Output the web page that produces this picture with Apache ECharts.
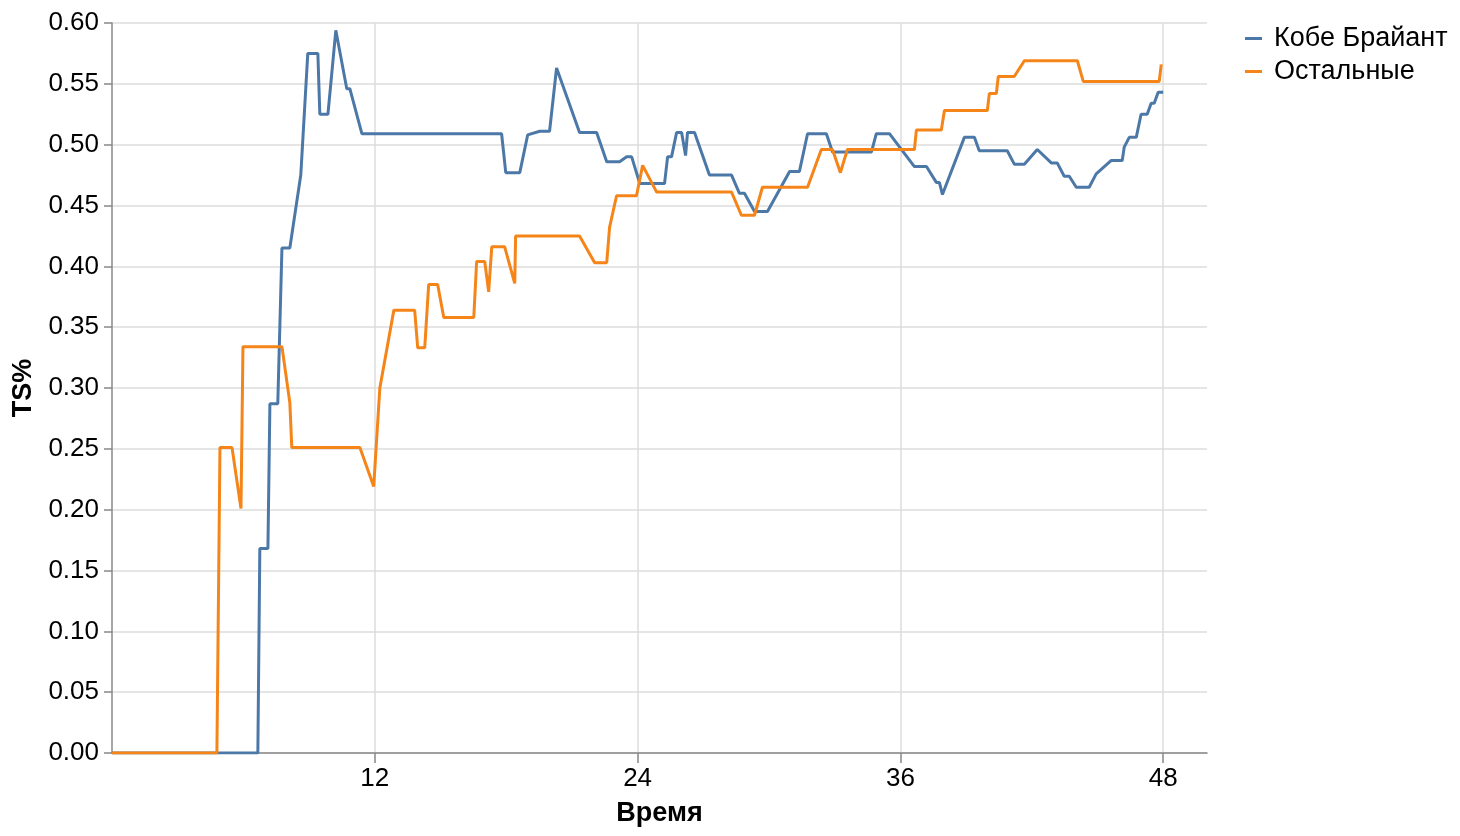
<!DOCTYPE html>
<html>
<head>
<meta charset="utf-8">
<script src="https://cdn.jsdelivr.net/npm/echarts@6/dist/echarts.min.js"></script>
<style>
html,body{margin:0;padding:0;background:#fff;overflow:hidden;}
#chart{width:1460px;height:836px;}
</style>
</head>
<body>
<div id="chart"></div>
<script>
// Minutes of game time and TS% values
const kobeTime = [0,6.66,6.75,7.12,7.21,7.57,7.76,8.12,8.62,8.94,9.40,9.49,9.86,10.22,10.72,10.86,11.41,17.79,17.98,18.62,18.98,19.53,19.98,20.30,21.35,22.13,22.59,23.18,23.50,23.73,24.10,25.23,25.37,25.55,25.78,26.01,26.19,26.28,26.60,27.28,28.29,28.65,28.88,29.34,29.93,30.48,30.94,31.39,31.76,32.62,32.90,34.68,34.90,35.50,36.64,37.19,37.64,37.78,37.92,38.92,39.38,39.60,40.88,41.20,41.66,42.25,42.89,43.16,43.48,43.71,44.03,44.62,44.94,45.63,46.13,46.22,46.45,46.77,46.99,47.27,47.45,47.59,47.77,48];
const kobeTS = [0,0,0.168,0.168,0.287,0.287,0.415,0.415,0.475,0.575,0.575,0.525,0.525,0.594,0.546,0.546,0.509,0.509,0.477,0.477,0.508,0.511,0.511,0.563,0.510,0.510,0.486,0.486,0.490,0.490,0.468,0.468,0.490,0.490,0.510,0.510,0.491,0.510,0.510,0.475,0.475,0.460,0.460,0.445,0.445,0.463,0.478,0.478,0.509,0.509,0.494,0.494,0.509,0.509,0.482,0.482,0.469,0.469,0.459,0.506,0.506,0.495,0.495,0.484,0.484,0.496,0.485,0.485,0.474,0.474,0.465,0.465,0.476,0.487,0.487,0.498,0.506,0.506,0.525,0.525,0.534,0.534,0.543,0.543];

const restTime = [0,4.79,4.93,5.48,5.89,5.98,7.76,8.12,8.21,11.32,11.95,12.23,12.87,13.82,13.96,14.28,14.46,14.87,15.15,16.52,16.65,17.02,17.20,17.34,17.93,18.39,18.43,21.35,22.04,22.59,22.72,23.04,23.95,24.23,24.87,28.29,28.74,29.34,29.70,31.76,32.39,32.90,33.26,33.35,33.58,36.64,36.73,37.87,38.01,39.97,40.06,40.38,40.47,41.20,41.66,44.08,44.35,47.82,47.91];
const restTS = [0,0,0.251,0.251,0.201,0.334,0.334,0.288,0.251,0.251,0.219,0.300,0.364,0.364,0.333,0.333,0.385,0.385,0.358,0.358,0.404,0.404,0.379,0.416,0.416,0.386,0.425,0.425,0.403,0.403,0.432,0.458,0.458,0.483,0.461,0.461,0.442,0.442,0.465,0.465,0.496,0.496,0.477,0.477,0.496,0.496,0.512,0.512,0.528,0.528,0.542,0.542,0.556,0.556,0.569,0.569,0.552,0.552,0.566];

const seriesNames = ['Кобе Брайант', 'Остальные'];
const xTicks = [12, 24, 36, 48];

function zip(a, b) { return a.map((v, i) => [v, b[i]]); }

const font = 'Liberation Sans, Arial, sans-serif';
const chart = echarts.init(document.getElementById('chart'), null, {renderer: 'canvas'});
chart.setOption({
  animation: false,
  color: ['#4c78a8', '#f58518'],
  grid: {left: 112, right: 253, top: 23, bottom: 83, containLabel: false, outerBoundsMode: 'none'},
  legend: {
    orient: 'vertical',
    left: 1240,
    top: 20,
    icon: 'rect',
    itemWidth: 17,
    itemHeight: 3,
    itemGap: 6,
    data: seriesNames,
    textStyle: {fontFamily: font, fontSize: 27, color: '#000', padding: [0, 0, 0, 7]}
  },
  xAxis: {
    type: 'value',
    min: 0,
    max: 50,
    interval: 12,
    name: 'Время',
    nameLocation: 'middle',
    nameGap: 47,
    nameTextStyle: {fontFamily: font, fontSize: 27, fontWeight: 'bold', color: '#000'},
    axisLine: {lineStyle: {color: '#888', width: 1.5}},
    axisTick: {show: true, length: 10, customValues: xTicks, lineStyle: {color: '#888', width: 1.5}},
    axisLabel: {customValues: xTicks, fontFamily: font, fontSize: 26, color: '#000', margin: 13},
    splitLine: {show: true, lineStyle: {color: '#ddd', width: 1.5}}
  },
  yAxis: {
    type: 'value',
    min: 0,
    max: 0.6,
    interval: 0.05,
    name: 'TS%',
    nameLocation: 'middle',
    nameGap: 74,
    nameRotate: 90,
    nameTextStyle: {fontFamily: font, fontSize: 27, fontWeight: 'bold', color: '#000'},
    axisLine: {show: true, lineStyle: {color: '#888', width: 1.5}},
    axisTick: {show: true, length: 8, lineStyle: {color: '#888', width: 1.5}},
    axisLabel: {fontFamily: font, fontSize: 26, color: '#000', margin: 13, formatter: v => v.toFixed(2)},
    splitLine: {show: true, lineStyle: {color: '#ddd', width: 1.5}}
  },
  series: [
    {name: seriesNames[0], type: 'line', data: zip(kobeTime, kobeTS), showSymbol: false, symbol: 'none', lineStyle: {width: 3}, z: 2},
    {name: seriesNames[1], type: 'line', data: zip(restTime, restTS), showSymbol: false, symbol: 'none', lineStyle: {width: 3}, z: 3}
  ]
});
</script>
</body>
</html>
